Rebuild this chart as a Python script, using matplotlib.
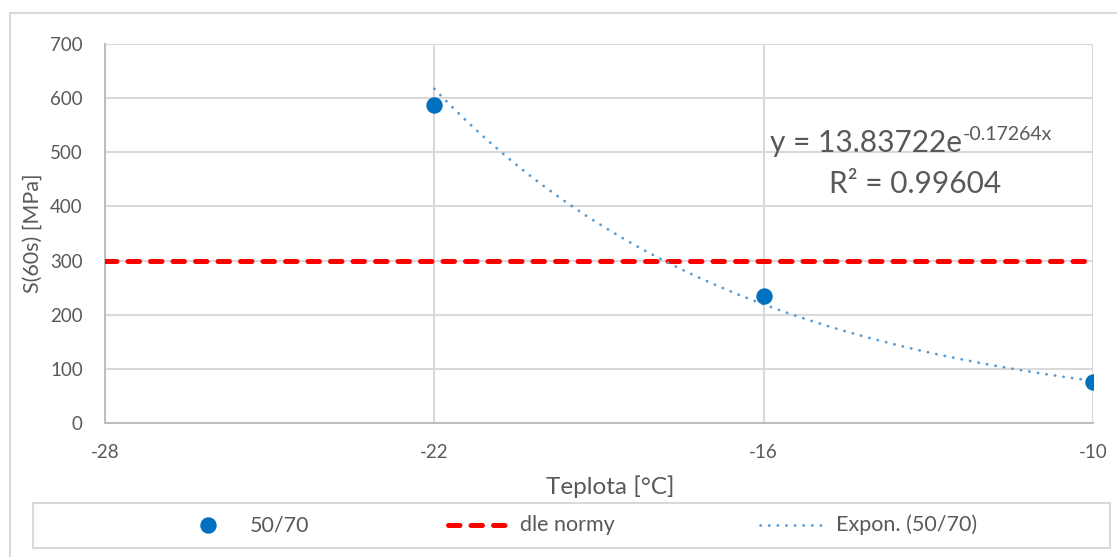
import numpy as np
import matplotlib
matplotlib.use("Agg")
import matplotlib.pyplot as plt
from matplotlib.lines import Line2D
from matplotlib.patches import Rectangle

plt.rcParams['font.family'] = ['Lato', 'DejaVu Sans']

# data
temps = [-22, -16, -10]
s60 = [588, 235, 75]
norm_x = [-28, -10]
norm_y = [300, 300]
fit_a = 13.83722
fit_b = -0.17264
r2 = 0.99604
xticks = [-28, -22, -16, -10]
yticks = [0, 100, 200, 300, 400, 500, 600, 700]
labels = ['50/70', 'dle normy', 'Expon. (50/70)']

txt = '#595959'
grid = '#D9D9D9'
pt_color = '#0070C0'
red = '#FF0000'
blue = '#5B9BD5'
red_ls = (0, (2.3, 2.2))
dot_ls = (0, (0.1, 3.0))

fig = plt.figure(figsize=(11.17, 5.57), dpi=100)
W, H = 1117, 557


def fx(px):
    return px / W


def fy(py):
    return 1 - py / H


ax = fig.add_axes([fx(105), fy(423), (1093 - 105) / W, (423 - 44) / H])

# outer chart border
fig.patches.append(Rectangle((fx(10), -0.1), 1.2, fy(13) + 0.1, transform=fig.transFigure,
                             fill=False, edgecolor=grid, linewidth=1.5))

xf = np.linspace(temps[0], temps[-1], 200)
yf = fit_a * np.exp(fit_b * xf)

ax.plot(norm_x, norm_y, color=red, linewidth=3.6, linestyle=red_ls,
        dash_capstyle='round', zorder=3)
ax.plot(xf, yf, color=blue, linewidth=2.0, linestyle=dot_ls,
        dash_capstyle='round', zorder=4)
ax.plot(temps, s60, linestyle='none', marker='o', markersize=10.8, color=pt_color, zorder=5)

ax.set_xlim(-28, -10)
ax.set_ylim(0, 700)
ax.set_xticks(xticks)
ax.set_yticks(yticks)
ax.set_xticklabels([str(v) for v in xticks])
ax.grid(True, color=grid, linewidth=1.5)
ax.set_axisbelow(True)
for s in ['top', 'right']:
    ax.spines[s].set_visible(False)
for s in ['left', 'bottom']:
    ax.spines[s].set_color('#BFBFBF')
    ax.spines[s].set_linewidth(1.5)
ax.tick_params(axis='both', length=0, labelsize=13.5, colors=txt)
ax.tick_params(axis='y', pad=16)
ax.tick_params(axis='x', pad=15)

ax.set_xlabel('Teplota [°C]', fontsize=17.5, color=txt, va='center')
ax.set_ylabel('S(60s) [MPa]', fontsize=15.5, color=txt, va='center')
ax.xaxis.set_label_coords((610 - 105) / 988, (423 - 487) / 379)
ax.yaxis.set_label_coords((33 - 105) / 988, 0.5)

# trendline equation
eq = ax.text((770 - 105) / 988, (423 - 152) / 379, 'y = 13.83722e', transform=ax.transAxes,
             fontsize=21.5, color=txt, ha='left', va='baseline')
fig.canvas.draw()
bb = eq.get_window_extent()
ax.text(bb.x1 + 1, bb.y0 + 0.62 * bb.height, '-0.17264x', transform=None,
        fontsize=14, color=txt, ha='left', va='baseline')
ax.text((915 - 105) / 988, (423 - 193) / 379, f'R² = {r2}', transform=ax.transAxes,
        fontsize=21.5, color=txt, ha='center', va='baseline')

# legend (manual)
fig.patches.append(Rectangle((fx(33), fy(548)), (1110 - 33) / W, 45 / H, transform=fig.transFigure,
                             fill=False, edgecolor=grid, linewidth=1.5))
ly = fy(525)
fig.lines.append(Line2D([fx(208)], [ly], transform=fig.transFigure, linestyle='none',
                        marker='o', markersize=10.8, color=pt_color))
fig.lines.append(Line2D([fx(448), fx(512)], [ly, ly], transform=fig.transFigure, color=red,
                        linewidth=3.6, linestyle=red_ls, dash_capstyle='round'))
fig.lines.append(Line2D([fx(760), fx(827)], [ly, ly], transform=fig.transFigure, color=blue,
                        linewidth=2.0, linestyle=dot_ls, dash_capstyle='round'))
for xpx, lab in zip([250, 520, 836], labels):
    fig.text(fx(xpx), ly, lab, fontsize=15.5, color=txt, ha='left', va='center')

fig.savefig('out.png', dpi=100)
